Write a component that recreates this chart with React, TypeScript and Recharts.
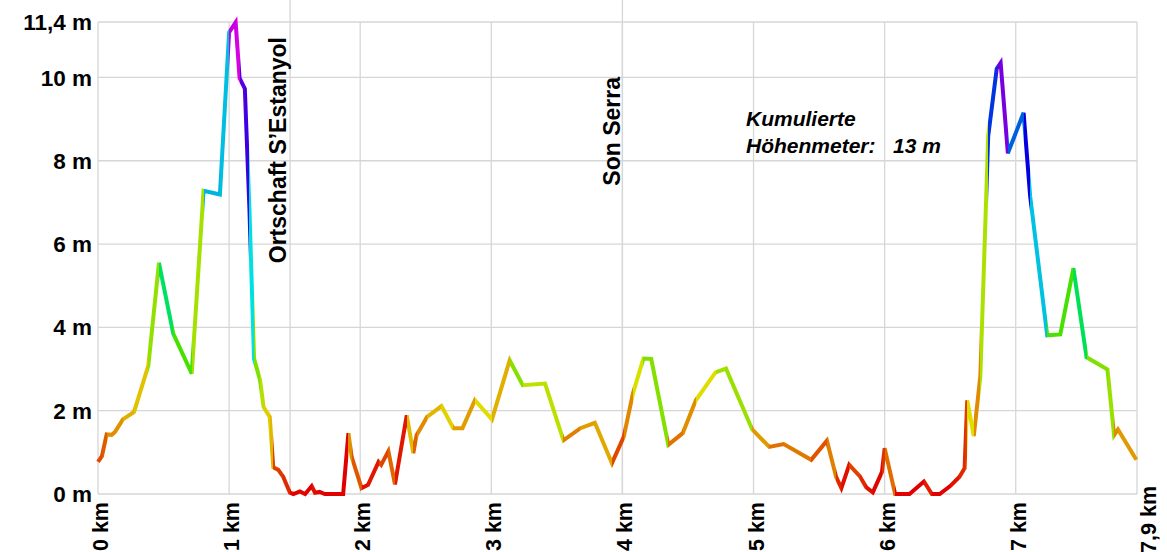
import { CartesianGrid, Line, LineChart, ReferenceLine, XAxis, YAxis } from "recharts";

// Höhenprofil: Distanz in km, Höhe in m
const distKm = [
  0.0, 0.03, 0.066, 0.104, 0.13, 0.19, 0.275, 0.384, 0.465, 0.574, 0.715, 0.805, 0.93, 1.0, 1.05, 1.08, 1.12,
  1.155, 1.19, 1.236, 1.263, 1.31, 1.337, 1.375, 1.413, 1.464, 1.49, 1.54, 1.58, 1.63, 1.655, 1.69, 1.73, 1.87,
  1.91, 1.935, 2.01, 2.06, 2.14, 2.16, 2.215, 2.265, 2.355, 2.405, 2.43, 2.51, 2.62, 2.71, 2.78, 2.875, 3.005,
  3.14, 3.24, 3.41, 3.55, 3.68, 3.79, 3.92, 4.01, 4.08, 4.16, 4.22, 4.35, 4.46, 4.56, 4.71, 4.79, 4.99, 5.12,
  5.23, 5.44, 5.56, 5.63, 5.67, 5.73, 5.81, 5.86, 5.91, 5.98, 6.0, 6.08, 6.19, 6.3, 6.36, 6.42, 6.5, 6.57, 6.61,
  6.63, 6.68, 6.73, 6.79, 6.855, 6.885, 6.94, 7.06, 7.11, 7.24, 7.34, 7.44, 7.54, 7.7, 7.75, 7.78, 7.92,
];
const elevM = [
  0.77, 0.91, 1.43, 1.42, 1.49, 1.79, 1.97, 3.08, 5.55, 3.85, 2.89, 7.28, 7.19, 11.08, 11.32, 9.98, 9.73,
  6.85, 3.25, 2.73, 2.09, 1.85, 0.64, 0.58, 0.41, 0.03, 0.0, 0.06, 0.0, 0.19, 0.03, 0.05, 0.0, 0.0,
  1.46, 0.89, 0.14, 0.22, 0.77, 0.7, 1.03, 0.23, 1.89, 0.98, 1.41, 1.85, 2.11, 1.58, 1.58, 2.25, 1.79,
  3.21, 2.61, 2.65, 1.29, 1.58, 1.71, 0.74, 1.37, 2.41, 3.25, 3.24, 1.18, 1.46, 2.25, 2.92, 3.01, 1.55, 1.13,
  1.2, 0.82, 1.28, 0.41, 0.14, 0.7, 0.43, 0.16, 0.04, 0.53, 1.1, 0.0, 0.0, 0.3, 0.0, 0.0, 0.19, 0.41, 0.62,
  2.25, 1.39, 2.83, 8.59, 10.21, 10.35, 8.18, 9.15, 7.15, 3.81, 3.83, 5.42, 3.28, 2.99, 1.41, 1.55, 0.82,
];

const xTicks = [0, 1, 2, 3, 4, 5, 6, 7, 7.925];
const xTickLabels = ["0 km", "1 km", "2 km", "3 km", "4 km", "5 km", "6 km", "7 km", "7,9 km"];
const yTicks = [0, 2, 4, 6, 8, 10, 11.33];
const yTickLabels = ["0 m", "2 m", "4 m", "6 m", "8 m", "10 m", "11,4 m"];

const places = [
  { name: "Ortschaft S’Estanyol", km: 1.465, textTop: 37, gap: 4 },
  { name: "Son Serra", km: 4.0, textTop: 77, gap: 2 },
];

const FONT = '"Liberation Sans", Arial, sans-serif';
const Y_MAX = 11.33;

const data = distKm.map((d, i) => ({ dist: d, elev: elevM[i] }));

function elevColor(h: number) {
  const hue = (h / 11.4) * 300;
  return `hsl(${hue.toFixed(0)}, 100%, 44%)`;
}

function XTick({ x, y, index }: any) {
  // the last label sits a little higher and to the right
  const last = index === xTickLabels.length - 1;
  const ax = last ? x + 9 : x;
  const ay = last ? y - 16 : y;
  return (
    <text
      x={ax}
      y={ay}
      dy={10}
      transform={`rotate(-90 ${ax} ${ay})`}
      textAnchor="end"
      fontFamily={FONT}
      fontSize={21.5}
      fontWeight="bold"
      fill="#000"
    >
      {xTickLabels[index]}
    </text>
  );
}

function YTick({ x, y, index }: any) {
  return (
    <text x={x} y={y} dy="0.36em" textAnchor="end" fontFamily={FONT} fontSize={22.5} fontWeight="bold" fill="#000">
      {yTickLabels[index]}
    </text>
  );
}

function placeLabel(name: string, textTop: number, gap: number) {
  return (props: any) => {
    const vb = props.viewBox || {};
    const x = vb.x - gap;
    const y = textTop;
    return (
      <text
        x={x}
        y={y}
        transform={`rotate(-90 ${x} ${y})`}
        textAnchor="end"
        fontFamily={FONT}
        fontSize={23}
        fontWeight="bold"
        fill="#000"
      >
        {name}
      </text>
    );
  };
}

export default function App() {
  const dLast = distKm[distKm.length - 1];
  const stops: any[] = [];
  for (let i = 0; i < distKm.length - 1; i++) {
    const c = elevColor(elevM[i]);
    stops.push(<stop key={`a${i}`} offset={distKm[i] / dLast} stopColor={c} />);
    stops.push(<stop key={`b${i}`} offset={distKm[i + 1] / dLast} stopColor={c} />);
  }

  return (
    <div style={{ position: "absolute", left: 0, top: 0, width: 1167, height: 552, background: "#fff", overflow: "hidden" }}>
      <LineChart width={1167} height={552} data={data} margin={{ top: 22, right: 30, bottom: 0, left: 0 }}>
        <defs>
          <linearGradient id="elevGrad" x1="0" y1="0" x2="1" y2="0">
            {stops}
          </linearGradient>
        </defs>
        <CartesianGrid stroke="#d6d6d6" strokeWidth={1.3} horizontalValues={yTicks} verticalValues={xTicks} />
        <XAxis
          type="number"
          dataKey="dist"
          domain={[0, 7.925]}
          ticks={xTicks}
          interval={0}
          height={58}
          axisLine={false}
          tickLine={false}
          tickSize={0}
          tickMargin={8}
          tick={<XTick />}
        />
        <YAxis
          type="number"
          domain={[0, Y_MAX]}
          ticks={yTicks}
          interval={0}
          width={98}
          axisLine={false}
          tickLine={false}
          tickSize={0}
          tickMargin={6}
          tick={<YTick />}
        />
        {places.map((p) => (
          <ReferenceLine
            key={p.name}
            segment={[
              { x: p.km, y: 0 },
              { x: p.km, y: Y_MAX + 0.55 },
            ]}
            ifOverflow="visible"
            stroke="#d6d6d6"
            strokeWidth={1.3}
            label={placeLabel(p.name, p.textTop, p.gap)}
          />
        ))}
        <Line
          type="linear"
          dataKey="elev"
          stroke="url(#elevGrad)"
          strokeWidth={4}
          dot={false}
          activeDot={false}
          isAnimationActive={false}
        />
      </LineChart>
      <div
        style={{
          position: "absolute",
          left: 746,
          top: 105,
          fontFamily: FONT,
          fontSize: 21,
          lineHeight: "27px",
          fontWeight: "bold",
          fontStyle: "italic",
          color: "#000",
          whiteSpace: "nowrap",
        }}
      >
        <div>Kumulierte</div>
        <div>
          Höhenmeter:<span style={{ position: "absolute", left: 147 }}>13 m</span>
        </div>
      </div>
    </div>
  );
}
